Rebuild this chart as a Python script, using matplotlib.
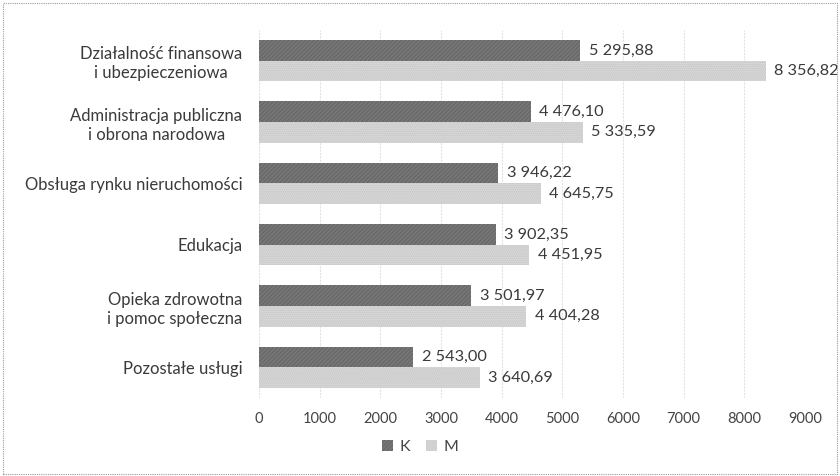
import matplotlib.pyplot as plt
from matplotlib.patches import Rectangle
import numpy as np

categories = [
    "Działalność finansowa\ni ubezpieczeniowa",
    "Administracja publiczna\ni obrona narodowa",
    "Obsługa rynku nieruchomości",
    "Edukacja",
    "Opieka zdrowotna\ni pomoc społeczna",
    "Pozostałe usługi",
]
values_k = [5295.88, 4476.10, 3946.22, 3902.35, 3501.97, 2543.00]
values_m = [8356.82, 5335.59, 4645.75, 4451.95, 4404.28, 3640.69]
series_names = ["K", "M"]
x_ticks = [0, 1000, 2000, 3000, 4000, 5000, 6000, 7000, 8000, 9000]


def fmt_pl(v):
    s = f"{v:,.2f}"
    return s.replace(",", " ").replace(".", ",")


plt.rcParams["font.family"] = ["Lato", "DejaVu Sans"]
plt.rcParams["hatch.linewidth"] = 0.6

fig = plt.figure(figsize=(8.4, 4.76), dpi=100)
ax = fig.add_axes([259 / 840, 1 - 398 / 476, (805 - 259) / 840, (398 - 30) / 476])

n = len(categories)
y = np.arange(n)
h = 0.335
bars_k = ax.barh(y - h / 2, values_k, height=h, color="#767676",
                 hatch="////////", edgecolor="#626262", linewidth=0, label=series_names[0])
bars_m = ax.barh(y + h / 2, values_m, height=h, color="#d6d6d6",
                 hatch="........", edgecolor="#c6c6c6", linewidth=0, label=series_names[1])

for bars, vals in ((bars_k, values_k), (bars_m, values_m)):
    for b, v in zip(bars, vals):
        ax.text(v + 140, b.get_y() + b.get_height() / 2, fmt_pl(v),
                va="center", ha="left", fontsize=11.7, color="#3a3a3a")

ax.set_ylim(n - 0.5, -0.5)
ax.set_xlim(0, 9000)
ax.set_yticks(y)
ax.set_yticklabels(categories, fontsize=12, color="#3a3a3a", ha="right",
                   linespacing=1.25)
for lbl in ax.get_yticklabels():
    lbl.set_multialignment("center")
ax.set_xticks(x_ticks)
ax.set_xticklabels([str(t) for t in x_ticks], fontsize=10.5, color="#444444")
ax.tick_params(axis="x", length=0, pad=10)
ax.tick_params(axis="y", length=0, pad=12)
ax.xaxis.grid(True, color="#e2e2e2", linewidth=0.8, linestyle=(0, (2, 1)))
ax.set_axisbelow(True)
for s in ax.spines.values():
    s.set_visible(False)

leg = fig.legend(loc="center", bbox_to_anchor=(420 / 840, 1 - 447 / 476), ncol=2,
                 frameon=False, fontsize=11.5, handlelength=0.7, handleheight=0.7,
                 handletextpad=0.4, columnspacing=1.0)
for t in leg.get_texts():
    t.set_color("#444444")

# dotted frame around the whole chart area
fig.patches.append(Rectangle((0.003, 0.004), 0.994, 0.99, transform=fig.transFigure,
                             fill=False, edgecolor="#9a9a9a", linewidth=0.8,
                             linestyle=(0, (1, 1))))

fig.savefig("out.png", dpi=100, facecolor="white")
